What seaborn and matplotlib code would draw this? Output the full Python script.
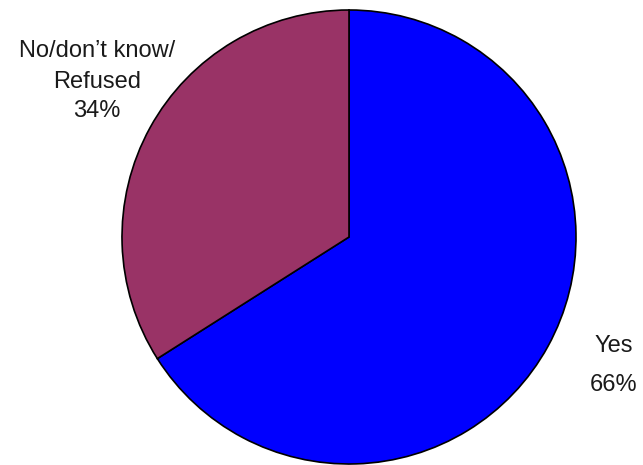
import numpy as np
import seaborn as sns
import matplotlib.pyplot as plt

# answers and shares
answers = ['Yes', "No/don\u2019t know/\nRefused"]
shares = [66, 34]
pct_labels = ['66%', '34%']
colors = ['#0000FF', '#993366']

sns.set_style("white")
plt.rcParams['font.family'] = ['Liberation Sans', 'DejaVu Sans']

fig = plt.figure(figsize=(6.43, 4.65), dpi=100)
ax = fig.add_axes([0, 0, 1, 1])

# pie centre at ~ (349, 237) px, radius ~227 px
cx, cy, r = 349.0, 237.0, 227.0
ax.pie(shares, colors=colors, startangle=90, counterclock=False,
       radius=1, center=(0, 0),
       wedgeprops=dict(edgecolor='black', linewidth=1.2))

def px(x, y):
    return (x - cx) / r, (cy - y) / r

ax.set_xlim(-cx / r, (643 - cx) / r)
ax.set_ylim(-(465 - cy) / r, cy / r)
ax.set_aspect('auto')
ax.axis('off')

# label text
tc = '#1a1a1a'
fs = 17
x, y = px(614, 346)
ax.text(x, y, answers[0], ha='center', va='center', fontsize=fs, color=tc)
x, y = px(614, 385)
ax.text(x, y, pct_labels[0], ha='center', va='center', fontsize=fs, color=tc)

lines = answers[1].split('\n') + [pct_labels[1]]
for line, ypx in zip(lines, [51, 82, 111]):
    x, y = px(97, ypx)
    ax.text(x, y, line, ha='center', va='center', fontsize=fs, color=tc)

plt.savefig('out.png', dpi=100)
